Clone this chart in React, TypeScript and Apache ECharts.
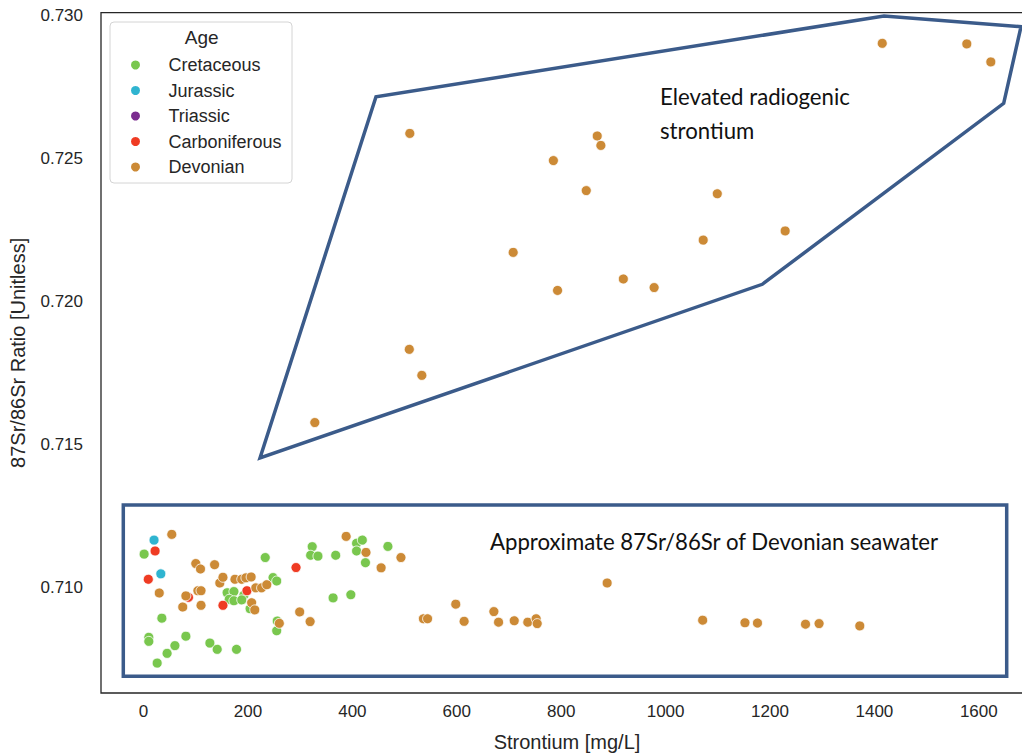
import { useEffect, useRef } from "react";
import * as echarts from "echarts";

const ageNames = ["Cretaceous", "Jurassic", "Triassic", "Carboniferous", "Devonian"];
const ageColors = ["#79c74e", "#2fb4d0", "#7b2c8f", "#ef3b23", "#cc8a36"];

const cretaceous: number[][] = [
  [1, 0.71116], [10, 0.70825], [10, 0.70811], [26, 0.70735], [45, 0.70769], [60, 0.70796],
  [81, 0.70829], [35, 0.70892], [127, 0.70805], [141, 0.70783], [178, 0.70783], [160, 0.70981],
  [173, 0.70985], [164, 0.70958], [173, 0.70953], [192, 0.70972], [188, 0.70956], [204, 0.70925],
  [248, 0.71034], [255, 0.71022], [233, 0.71104], [255, 0.70848], [256, 0.70882], [323, 0.71142],
  [320, 0.71112], [334, 0.71109], [368, 0.71112], [408, 0.71154], [419, 0.71165], [408, 0.71127],
  [425, 0.71086], [468, 0.71143], [363, 0.70963], [397, 0.70974],
];
const jurassic: number[][] = [[20, 0.71165], [33, 0.71047]];
const triassic: number[][] = [];
const carboniferous: number[][] = [
  [22, 0.71127], [9, 0.71028], [86, 0.70965], [152, 0.70937], [198, 0.70988], [292, 0.71069],
];
const devonian: number[][] = [
  // elevated radiogenic group
  [510, 0.72587], [509, 0.71832], [533, 0.71741], [328, 0.71576], [869, 0.72578], [876, 0.72545],
  [785, 0.72492], [848, 0.72387], [1099, 0.72376], [708, 0.72171], [1072, 0.72214], [1229, 0.72246],
  [793, 0.72038], [919, 0.72078], [978, 0.72048], [1415, 0.72902], [1577, 0.729], [1623, 0.72837],
  // seawater group
  [493, 0.71104], [888, 0.71015], [598, 0.70941], [536, 0.7089], [544, 0.7089], [614, 0.70881],
  [671, 0.70915], [680, 0.70878], [710, 0.70883], [736, 0.70878], [752, 0.7089], [754, 0.70873],
  [1071, 0.70885], [1152, 0.70876], [1176, 0.70875], [1268, 0.70871], [1294, 0.70873], [1372, 0.70865],
  [54, 0.71185], [30, 0.7098], [100, 0.71083], [109, 0.71064], [136, 0.71079], [81, 0.7097],
  [75, 0.70931], [104, 0.70988], [110, 0.70988], [110, 0.70937], [146, 0.71015], [152, 0.71035],
  [175, 0.71028], [188, 0.71028], [196, 0.71033], [206, 0.71036], [207, 0.70946], [213, 0.70921],
  [215, 0.70998], [226, 0.70998], [236, 0.71009], [299, 0.70914], [319, 0.7088], [260, 0.70874],
  [388, 0.71178], [426, 0.71122], [455, 0.71068],
];

const xTicks = [0, 200, 400, 600, 800, 1000, 1200, 1400, 1600];
const yTicks = [0.71, 0.715, 0.72, 0.725, 0.73];

const BLUE = "#3b5b8a";
const INK = "#262626";
const AXIS_FONT = "'Liberation Sans', Arial, sans-serif";
const NOTE_FONT = "Lato, 'Open Sans', sans-serif";

export default function App() {
  const ref = useRef<HTMLDivElement>(null);
  useEffect(() => {
    const chart = echarts.init(ref.current!, null, { renderer: "svg" });
    const groups = [cretaceous, jurassic, triassic, carboniferous, devonian];
    chart.setOption({
      animation: false,
      backgroundColor: "#ffffff",
      grid: {
        left: 101,
        top: 12.7,
        width: 932,
        height: 680.3,
        show: true,
        borderColor: INK,
        borderWidth: 1.3,
        backgroundColor: "transparent",
        outerBoundsMode: "none",
      },
      xAxis: {
        type: "value",
        min: -81.6,
        max: 1703.8,
        axisLine: { show: false },
        axisTick: { show: false },
        splitLine: { show: false },
        axisLabel: {
          customValues: xTicks,
          formatter: (v: number) => String(v),
          fontSize: 17,
          color: INK,
          fontFamily: AXIS_FONT,
          margin: 10,
        },
        name: "Strontium [mg/L]",
        nameLocation: "middle",
        nameGap: 39,
        nameTextStyle: { fontSize: 20, color: INK, fontFamily: AXIS_FONT },
      },
      yAxis: {
        type: "value",
        min: 0.706304,
        max: 0.730091,
        axisLine: { show: false },
        axisTick: { show: false },
        splitLine: { show: false },
        axisLabel: {
          customValues: yTicks,
          formatter: (v: number) => v.toFixed(3),
          fontSize: 17,
          color: INK,
          fontFamily: AXIS_FONT,
          margin: 18,
        },
        name: "87Sr/86Sr Ratio [Unitless]",
        nameLocation: "middle",
        nameGap: 73,
        nameRotate: 90,
        nameTextStyle: { fontSize: 20, color: INK, fontFamily: AXIS_FONT },
      },
      legend: {
        data: ageNames,
        orient: "vertical",
        left: 129,
        top: 56,
        padding: 0,
        itemWidth: 56,
        itemHeight: 11,
        itemGap: 7.5,
        icon: "circle",
        z: 6,
        textStyle: { fontSize: 18, color: INK, fontFamily: AXIS_FONT },
      },
      series: groups.map((d, i) => ({
        type: "scatter",
        name: ageNames[i],
        data: d,
        symbol: "circle",
        symbolSize: 10,
        itemStyle: { color: ageColors[i], borderColor: "#ffffff", borderWidth: 0.8, opacity: 1 },
        emphasis: { disabled: true },
        z: 2,
      })),
      graphic: [
        {
          type: "rect",
          z: 5,
          shape: { x: 110, y: 22, width: 182, height: 161, r: 4 },
          style: { fill: "rgba(255,255,255,0.85)", stroke: "#d4d4d4", lineWidth: 1 },
        },
        {
          type: "text",
          z: 6,
          x: 201.7,
          y: 37.3,
          style: {
            text: "Age",
            fill: INK,
            font: `19px ${AXIS_FONT}`,
            textAlign: "center",
            textVerticalAlign: "middle",
          },
        },
        {
          type: "polygon",
          z: 7,
          shape: {
            points: [
              [260, 458], [376, 96.7], [884, 16], [1021, 26.7], [1003.7, 103.3], [762.3, 284.3],
            ],
          },
          style: { fill: "none", stroke: BLUE, lineWidth: 3.5, lineJoin: "miter" },
        },
        {
          type: "rect",
          z: 7,
          shape: { x: 123.3, y: 505, width: 883.4, height: 171.3 },
          style: { fill: "none", stroke: BLUE, lineWidth: 3.5 },
        },
        {
          type: "text",
          z: 7,
          x: 660,
          y: 96,
          style: { text: "Elevated radiogenic", fill: "#111", font: `22.2px ${NOTE_FONT}`, textVerticalAlign: "middle" },
        },
        {
          type: "text",
          z: 7,
          x: 660,
          y: 130,
          style: { text: "strontium", fill: "#111", font: `22.2px ${NOTE_FONT}`, textVerticalAlign: "middle" },
        },
        {
          type: "text",
          z: 7,
          x: 490,
          y: 541,
          style: {
            text: "Approximate 87Sr/86Sr of Devonian seawater",
            fill: "#111",
            font: `22.2px ${NOTE_FONT}`,
            textVerticalAlign: "middle",
          },
        },
      ],
    });
    return () => chart.dispose();
  }, []);
  return <div ref={ref} style={{ position: "absolute", left: 0, top: 0, width: 1022, height: 755 }} />;
}
